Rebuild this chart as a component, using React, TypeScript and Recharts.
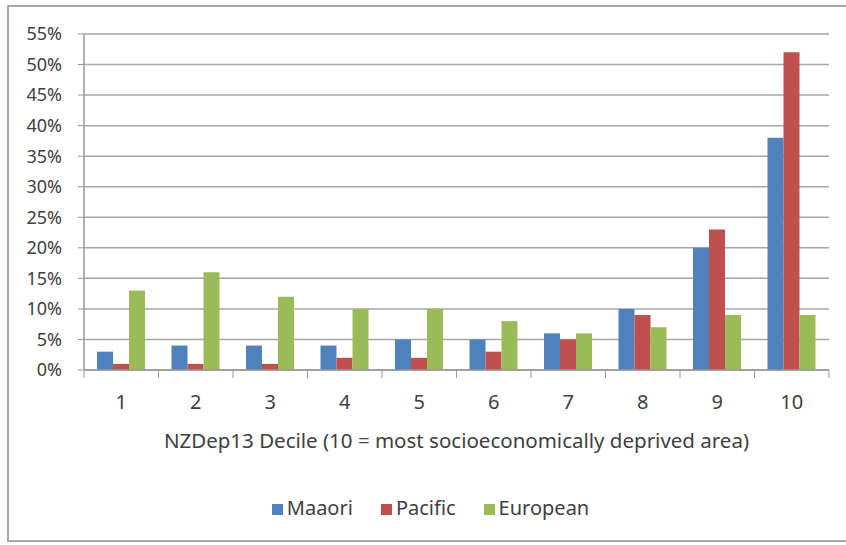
import React from 'react';
import { BarChart, Bar, XAxis, YAxis, CartesianGrid, Legend } from 'recharts';

const deciles = ['1', '2', '3', '4', '5', '6', '7', '8', '9', '10'];
const maaori = [3, 4, 4, 4, 5, 5, 6, 10, 20, 38];
const pacific = [1, 1, 1, 2, 2, 3, 5, 9, 23, 52];
const european = [13, 16, 12, 10, 10, 8, 6, 7, 9, 9];
const yTicks = [0, 5, 10, 15, 20, 25, 30, 35, 40, 45, 50, 55];
const seriesOrder = ['Maaori', 'Pacific', 'European'];

const data = deciles.map((d, i) => ({
  decile: d,
  Maaori: maaori[i],
  Pacific: pacific[i],
  European: european[i],
}));

const W = 846;
const H = 545;
const LEFT = 84;
const RIGHT = 17;
const BAND = (W - LEFT - RIGHT) / deciles.length;
const FONT = '"Noto Sans", sans-serif';
const TEXT = '#404040';

const DecileTick = (props: any) => {
  const { x, y, payload, index } = props;
  const isLast = index === deciles.length - 1;
  return (
    <g>
      <line x1={x - BAND / 2} x2={x - BAND / 2} y1={y - 8} y2={y} stroke="#999" />
      {isLast && <line x1={x + BAND / 2} x2={x + BAND / 2} y1={y - 8} y2={y} stroke="#999" />}
      <text x={x} y={y + 31} textAnchor="middle" fill={TEXT} fontSize={20} fontFamily={FONT}>
        {payload.value}
      </text>
    </g>
  );
};

export default function App() {
  return (
    <div style={{ position: 'relative', width: W, height: H, background: '#fff', overflow: 'hidden' }}>
      <style>{'body{margin:0}'}</style>
      <div
        style={{
          position: 'absolute',
          left: 7,
          top: 5,
          width: W + 20,
          height: 537,
          border: '2px solid #a8a8a8',
          boxSizing: 'border-box',
        }}
      />
      <BarChart
        width={W}
        height={H}
        data={data}
        margin={{ top: 34, right: RIGHT, left: 0, bottom: 27 }}
        barGap={0}
        barSize={16}
        style={{ position: 'absolute', left: 0, top: 0 }}
      >
        <CartesianGrid vertical={false} stroke="#a6a6a6" strokeWidth={1.5} />
        <XAxis
          dataKey="decile"
          axisLine={{ stroke: '#999', strokeWidth: 1.5 }}
          tickLine={false}
          tick={<DecileTick />}
          interval={0}
          height={124}
          label={{
            value: 'NZDep13 Decile (10 = most socioeconomically deprived area)',
            position: 'insideTop',
            offset: 63,
            fill: TEXT,
            fontSize: 20.5,
            fontFamily: FONT,
          }}
        />
        <YAxis
          width={LEFT}
          domain={[0, 55]}
          ticks={yTicks}
          interval={0}
          axisLine={{ stroke: '#999', strokeWidth: 1.5 }}
          tickLine={{ stroke: '#999' }}
          tickSize={6}
          tickMargin={16}
          tickFormatter={(v: number) => `${v}%`}
          tick={{ fill: TEXT, fontSize: 18, fontFamily: FONT }}
        />
        <Legend
          verticalAlign="bottom"
          align="center"
          height={24}
          iconType="square"
          iconSize={11}
          itemSorter={(item: any) => seriesOrder.indexOf(item.value)}
          wrapperStyle={{ fontFamily: FONT, fontSize: 20, left: 30 }}
          formatter={(value: string) => <span style={{ color: TEXT, marginRight: 18 }}>{value}</span>}
        />
        <Bar dataKey="Maaori" fill="#4F81BD" isAnimationActive={false} />
        <Bar dataKey="Pacific" fill="#C0504D" isAnimationActive={false} />
        <Bar dataKey="European" fill="#9BBB59" isAnimationActive={false} />
      </BarChart>
    </div>
  );
}
